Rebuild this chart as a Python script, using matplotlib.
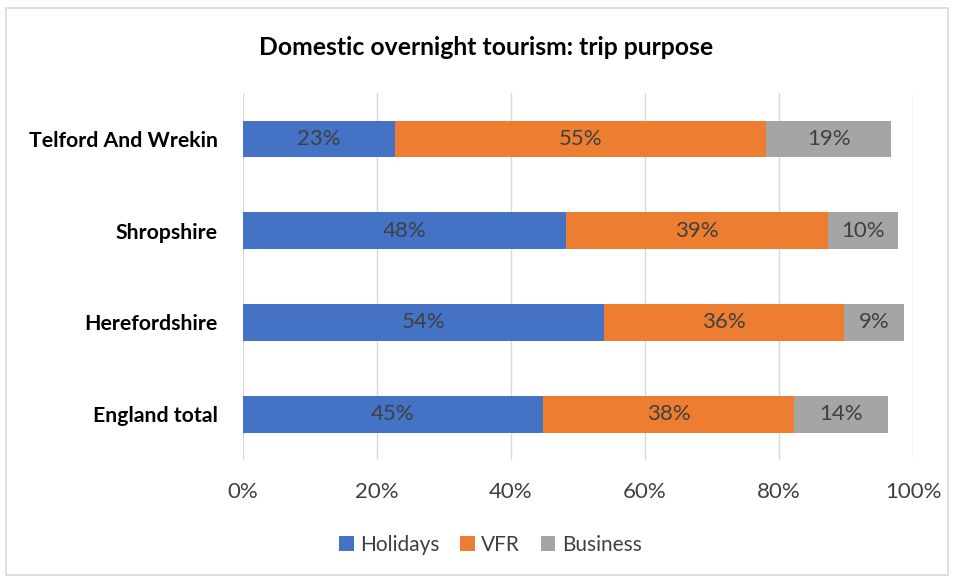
import matplotlib.pyplot as plt
from matplotlib.patches import Rectangle
from matplotlib.ticker import PercentFormatter

plt.rcParams['font.family'] = ['Lato', 'DejaVu Sans']

# data (share of trips, %)
regions = ['Telford And Wrekin', 'Shropshire', 'Herefordshire', 'England total']
holidays = [22.7, 48.2, 53.9, 44.8]
vfr = [55.4, 39.1, 35.8, 37.5]
business = [18.6, 10.4, 9.0, 14.0]
series_names = ['Holidays', 'VFR', 'Business']
colors = ['#4472C4', '#ED7D31', '#A5A5A5']

fig = plt.figure(figsize=(9.54, 5.78), dpi=100)
# outer chart frame
fig.patches.append(Rectangle((0.006, 0.006), 0.988, 0.98, transform=fig.transFigure,
                             fill=False, edgecolor='#D9D9D9', linewidth=1.2))

ax = fig.add_axes([0.2547, 0.204, 0.7023, 0.635])

ypos = list(range(len(regions)))
left = [0] * len(regions)
for name, vals, col in zip(series_names, [holidays, vfr, business], colors):
    bars = ax.barh(ypos, vals, left=left, height=0.4, color=col, label=name, zorder=3)
    for b, v in zip(bars, vals):
        ax.text(b.get_x() + b.get_width() / 2, b.get_y() + b.get_height() / 2,
                '{:.0f}%'.format(v), ha='center', va='center',
                fontsize=16, color='#404040', zorder=4)
    left = [l + v for l, v in zip(left, vals)]

ax.set_xlim(0, 100)
ax.set_ylim(3.5, -0.5)
ax.set_yticks(ypos)
ax.set_yticklabels(regions, fontsize=15.3, fontweight='bold', color='#000000')
ax.set_xticks([0, 20, 40, 60, 80, 100])
ax.xaxis.set_major_formatter(PercentFormatter(decimals=0))
ax.tick_params(axis='x', labelsize=16, colors='#404040', length=0, pad=16)
ax.tick_params(axis='y', length=0, pad=18)
ax.grid(axis='x', color='#D9D9D9', linewidth=1, zorder=0)
for s in ax.spines.values():
    s.set_visible(False)

fig.text(0.51, 0.918, 'Domestic overnight tourism: trip purpose', ha='center', va='center',
         fontsize=17.8, fontweight='bold')

ax.legend(loc='center', bbox_to_anchor=(0.514, 0.057), bbox_transform=fig.transFigure,
          ncol=3, frameon=False, fontsize=15, handlelength=0.7, handleheight=0.7,
          handletextpad=0.3, columnspacing=1.0, labelcolor='#404040')

fig.savefig('out.png', dpi=100)
